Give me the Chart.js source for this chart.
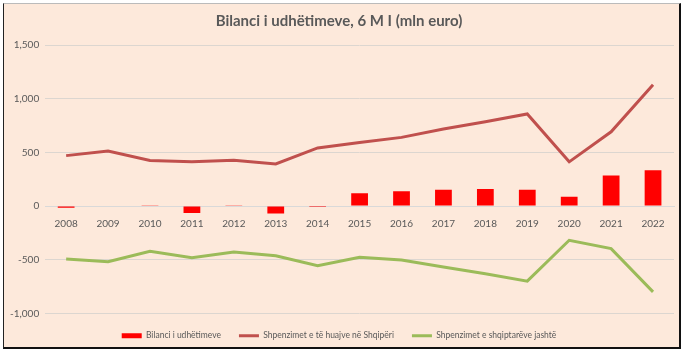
<!DOCTYPE html>
<html>
<head>
<meta charset="utf-8">
<script src="https://cdn.jsdelivr.net/npm/chart.js@4/dist/chart.umd.min.js"></script>
<style>
  html, body { margin: 0; padding: 0; background: #fff; }
  #frame {
    position: absolute; left: 3px; top: 3px; width: 675px; height: 343px;
    background: #FDE9DB;
    border-left: 1px solid #222; border-top: 1px solid #bbb;
    border-right: 2px solid #111; border-bottom: 2px solid #111;
  }
  #wrap { position: absolute; left: 0; top: 0; width: 684px; height: 354px; }
</style>
</head>
<body>
<div id="frame"></div>
<div id="wrap"><canvas id="chart"></canvas></div>
<script>
const years = ['2008', '2009', '2010', '2011', '2012', '2013', '2014', '2015',
               '2016', '2017', '2018', '2019', '2020', '2021', '2022'];
// bilanci i udhetimeve (mln euro)
const balance = [-15, 0, 4, -64, 4, -68, -8, 119, 138, 153, 159, 153, 88, 285, 334];
// shpenzimet e te huajve ne Shqiperi
const foreignSpend = [470, 512, 424, 414, 428, 392, 542, 592, 640, 718, 786, 858, 412, 692, 1130];
// shpenzimet e shqiptareve jashte
const abroadSpend = [-492, -518, -421, -480, -427, -462, -555, -477, -502, -567, -630, -699, -318, -396, -799];
const yTicks = [-1000, -500, 0, 500, 1000, 1500];

const labelNames = ['Bilanci i udhëtimeve', 'Shpenzimet e të huajve në Shqipëri', 'Shpenzimet e shqiptarëve jashtë'];
const textColor = '#595959';
const fontFamily = 'Lato, "Open Sans", sans-serif';

const ctx = document.getElementById('chart').getContext('2d');
new Chart(ctx, {
    data: {
        labels: years,
        datasets: [
            {
                type: 'bar',
                label: labelNames[0],
                data: balance,
                backgroundColor: '#FF0000',
                borderWidth: 0,
                barPercentage: 0.4,
                categoryPercentage: 1,
                order: 3
            },
            {
                type: 'line',
                label: labelNames[1],
                data: foreignSpend,
                borderColor: '#C0504D',
                backgroundColor: '#C0504D',
                borderWidth: 3,
                pointRadius: 0,
                tension: 0,
                order: 1
            },
            {
                type: 'line',
                label: labelNames[2],
                data: abroadSpend,
                borderColor: '#9BBB59',
                backgroundColor: '#9BBB59',
                borderWidth: 3,
                pointRadius: 0,
                tension: 0,
                order: 2
            }
        ]
    },
    options: {
        responsive: true,
        maintainAspectRatio: false,
        animation: false,
        layout: { padding: { left: 4, right: 10, top: 4, bottom: 4 } },
        plugins: {
            tooltip: { enabled: false },
            title: {
                display: true,
                text: 'Bilanci i udhëtimeve, 6 M I (mln euro)',
                color: textColor,
                font: { family: fontFamily, size: 15, weight: 'bold' },
                padding: { top: 8, bottom: 15 }
            },
            legend: {
                position: 'bottom',
                labels: {
                    color: textColor,
                    font: { family: fontFamily, size: 8.5 },
                    usePointStyle: true,
                    pointStyleWidth: 20,
                    boxHeight: 5,
                    padding: 18,
                    generateLabels: chart => {
                        const items = Chart.defaults.plugins.legend.labels.generateLabels(chart);
                        items.forEach(item => {
                            const ds = chart.data.datasets[item.datasetIndex];
                            item.pointStyle = ds.type === 'bar' ? 'rect' : 'line';
                            item.lineWidth = ds.type === 'bar' ? 0 : 3;
                            item.strokeStyle = ds.borderColor || ds.backgroundColor;
                        });
                        return items.sort((a, b) => a.datasetIndex - b.datasetIndex);
                    }
                }
            }
        },
        scales: {
            x: {
                position: { y: 0 },
                grid: { display: false },
                border: { display: true, color: '#D9D9D9' },
                ticks: { color: textColor, font: { family: fontFamily, size: 10 }, padding: 4, maxRotation: 0 }
            },
            y: {
                min: yTicks[0],
                max: yTicks[yTicks.length - 1],
                afterBuildTicks: axis => { axis.ticks = yTicks.map(v => ({ value: v })); },
                grid: { color: '#DCD6D0', drawTicks: false },
                border: { display: false },
                ticks: {
                    color: textColor,
                    font: { family: fontFamily, size: 10 },
                    padding: 6,
                    callback: v => v.toLocaleString('en-US')
                }
            }
        }
    }
});
</script>
</body>
</html>
